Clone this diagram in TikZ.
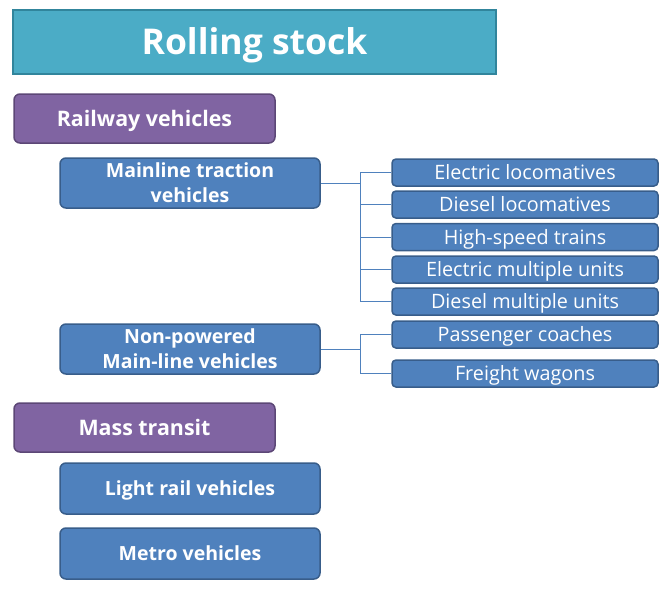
\documentclass[tikz,border=0pt]{standalone}
\usepackage{fontspec}
\setmainfont{Open Sans}
\definecolor{titlefill}{HTML}{4BACC6}
\definecolor{titleedge}{HTML}{31859C}
\definecolor{purplefill}{HTML}{8064A2}
\definecolor{purpleedge}{HTML}{5C4776}
\definecolor{bluefill}{HTML}{4F81BD}
\definecolor{blueedge}{HTML}{385D8A}
\tikzset{
  titlebox/.style={draw=titleedge, fill=titlefill, line width=2.5pt, minimum width=483pt, minimum height=64pt, inner sep=0pt, text=white, text height=25.3pt, text depth=0pt, font=\fontsize{35.5}{40}\selectfont\bfseries},
  catbox/.style={draw=purpleedge, fill=purplefill, line width=1.5pt, rounded corners=6pt, minimum width=261pt, minimum height=49pt, inner sep=0pt, text=white, text height=15.3pt, text depth=0pt, font=\fontsize{21.4}{24}\selectfont\bfseries},
  subbox/.style={draw=blueedge, fill=bluefill, line width=1.5pt, rounded corners=6pt, minimum width=260pt, minimum height=50pt, inner sep=0pt, text=white, align=center, font=\fontsize{19.5}{25}\selectfont\bfseries},
  onel/.style={text height=13.9pt, text depth=0pt},
  twol/.style={text height=38.9pt, text depth=0pt},
  leafbox/.style={draw=blueedge, fill=bluefill, line width=1.5pt, rounded corners=4pt, minimum width=266pt, minimum height=27pt, inner sep=0pt, text=white, text height=14.1pt, text depth=0pt, font=\fontsize{19.8}{22}\selectfont},
  conn/.style={draw=bluefill, line width=0.9pt}
}
\begin{document}
\begin{tikzpicture}[x=1pt,y=-1pt]
\useasboundingbox (0,0) rectangle (667,589);
\node[titlebox] (title) at (254.5,42) {Rolling stock};
\node[catbox] (rail) at (144.5,118.5) {Railway vehicles};
\node[subbox, twol] (main) at (190,183) {Mainline traction\\vehicles};
\node[leafbox] (el) at (525,172.5) {Electric locomatives};
\node[leafbox] (dl) at (525,204.5) {Diesel locomatives};
\node[leafbox] (hs) at (525,237) {High-speed trains};
\node[leafbox] (emu) at (525,269.5) {Electric multiple units};
\node[leafbox] (dmu) at (525,301.5) {Diesel multiple units};
\node[subbox, twol] (nonp) at (190,349) {Non-powered\\Main-line vehicles};
\node[leafbox] (pc) at (525,334.5) {Passenger coaches};
\node[leafbox] (fw) at (525,373.5) {Freight wagons};
\node[catbox] (mass) at (144.5,427.5) {Mass transit};
\node[subbox, onel, minimum height=51pt] (lrv) at (190,488.5) {Light rail vehicles};
\node[subbox, onel, minimum height=51pt] (metro) at (190,553.5) {Metro vehicles};
\coordinate (j1) at (360,183);
\coordinate (j2) at (360,349);
\draw[conn] (main.east) -- (j1);
\foreach \b in {el,dl,hs,emu,dmu} \draw[conn] (j1) |- (\b.west);
\draw[conn] (nonp.east) -- (j2);
\foreach \b in {pc,fw} \draw[conn] (j2) |- (\b.west);
\end{tikzpicture}
\end{document}
